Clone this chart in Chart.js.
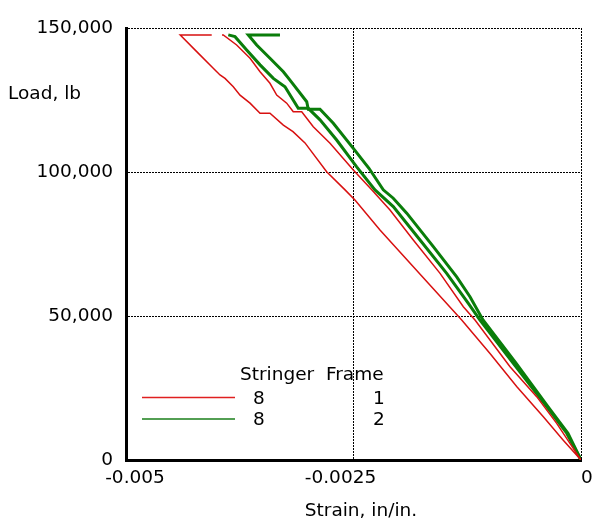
<!DOCTYPE html>
<html>
<head>
<meta charset="utf-8">
<script src="https://cdn.jsdelivr.net/npm/chart.js@4"></script>
<style>
  body { margin: 0; background: #fff; }
  canvas { display: block; }
</style>
</head>
<body>
<canvas id="chart" width="597" height="529"></canvas>
<script>
// strain (in/in.) and load (lb), from zero load up to the top
const red1Strain = [0, -0.000195, -0.000414, -0.000707, -0.001000, -0.001311, -0.001678, -0.001925, -0.002209, -0.002484, -0.002593, -0.002795, -0.003033, -0.003165, -0.003271, -0.003418, -0.003527, -0.003637, -0.003747, -0.003821, -0.003912, -0.003967, -0.004041, -0.004223, -0.004404, -0.004058];
const red1Load = [0, 6900, 15000, 25500, 37000, 48600, 61400, 70000, 79900, 90300, 93800, 100100, 110100, 114000, 116300, 120400, 120400, 123900, 126700, 129600, 132500, 133700, 136000, 141800, 147600, 147600];

const red2Strain = [0, -0.000267, -0.000487, -0.000780, -0.001165, -0.001293, -0.001549, -0.001843, -0.002099, -0.002300, -0.002502, -0.002758, -0.002942, -0.003069, -0.003162, -0.003234, -0.003344, -0.003418, -0.003527, -0.003637, -0.003784, -0.003931, -0.003945];
const red2Load = [0, 12700, 22000, 32400, 48600, 53200, 64800, 76400, 86800, 93800, 100700, 110000, 115700, 120900, 120900, 123900, 126700, 130800, 134800, 139500, 144100, 147600, 147600];

const green1Strain = [0, -0.000157, -0.000377, -0.000744, -0.001110, -0.001238, -0.001476, -0.001769, -0.002063, -0.002264, -0.002465, -0.002685, -0.002868, -0.002997, -0.003107, -0.003253, -0.003381, -0.003527, -0.003674, -0.003802, -0.003876];
const green1Load = [0, 9300, 18500, 33600, 48600, 54400, 64800, 76400, 88000, 93800, 101800, 111100, 118100, 122100, 122100, 129600, 132500, 137200, 142400, 147000, 147600];

const green2Strain = [0, -0.000143, -0.000363, -0.000714, -0.001077, -0.001220, -0.001366, -0.001623, -0.001915, -0.002063, -0.002173, -0.002330, -0.002502, -0.002722, -0.002868, -0.002997, -0.003014, -0.003198, -0.003271, -0.003418, -0.003564, -0.003656, -0.003308];
const green2Load = [0, 9300, 18500, 33600, 48600, 56700, 63600, 74100, 85700, 90900, 93800, 101300, 108200, 116900, 121800, 121800, 124400, 131900, 134800, 139500, 144100, 147600, 147600];

const xTickValues = [-0.005, -0.0025, 0];
const xTickLabels = ['-0.005', '-0.0025', '0'];
const yTickValues = [0, 50000, 100000, 150000];
const yTickLabels = ['0', '50,000', '100,000', '150,000'];

const legendHeader = 'Stringer  Frame';
const legendRows = [
  { stringer: '8', frame: '1', color: '#e02020' },
  { stringer: '8', frame: '2', color: '#1a7f1a' }
];

const RED = '#d81010';
const GREEN = '#0a7d0a';
const FONT = '"DejaVu Sans", sans-serif';
// the old plot puts its x labels a bit off-centre
const xLabelShift = [9, -13, 6];

function points(xs, ys) {
  return xs.map((x, i) => ({ x: x, y: ys[i] }));
}

function curve(xs, ys, color, width) {
  return {
    data: points(xs, ys),
    borderColor: color,
    backgroundColor: color,
    borderWidth: width,
    showLine: true,
    pointRadius: 0,
    tension: 0
  };
}

// x tick labels, axis titles and the little key, drawn on top
const extras = {
  id: 'extras',
  afterDraw(chart) {
    const ctx = chart.ctx;
    const xs = chart.scales.x;
    ctx.save();
    ctx.fillStyle = '#000';
    ctx.font = '18.5px ' + FONT;
    ctx.textBaseline = 'alphabetic';

    ctx.textAlign = 'center';
    xTickValues.forEach((v, i) => {
      ctx.fillText(xTickLabels[i], xs.getPixelForValue(v) + xLabelShift[i], 483);
    });

    ctx.textAlign = 'left';
    ctx.fillText('Load, lb', 8, 99);

    ctx.textAlign = 'center';
    ctx.fillText('Strain, in/in.', 361, 516);

    ctx.textAlign = 'left';
    ctx.fillText(legendHeader, 240, 380);

    legendRows.forEach((row, i) => {
      const y = 397.5 + i * 21.5;
      ctx.strokeStyle = row.color;
      ctx.lineWidth = 1.5;
      ctx.beginPath();
      ctx.moveTo(142, y);
      ctx.lineTo(235, y);
      ctx.stroke();
      ctx.textAlign = 'center';
      ctx.fillText(row.stringer, 259, y + 6);
      ctx.fillText(row.frame, 379, y + 6);
    });
    ctx.restore();
  }
};

new Chart(document.getElementById('chart'), {
  type: 'scatter',
  data: {
    datasets: [
      curve(red1Strain, red1Load, RED, 1.5),
      curve(red2Strain, red2Load, RED, 1.5),
      curve(green1Strain, green1Load, GREEN, 3),
      curve(green2Strain, green2Load, GREEN, 3)
    ]
  },
  options: {
    responsive: false,
    animation: false,
    devicePixelRatio: 1,
    layout: { padding: { top: 28, right: 16, left: 0, bottom: 0 } },
    plugins: {
      legend: { display: false },
      tooltip: { enabled: false }
    },
    scales: {
      x: {
        type: 'linear',
        min: -0.005,
        max: 0,
        afterBuildTicks: (s) => { s.ticks = xTickValues.map(v => ({ value: v })); },
        afterFit: (s) => { s.height = 69; },
        ticks: { display: false },
        grid: { color: '#000', lineWidth: 1, drawTicks: false },
        border: { display: true, color: '#000', width: 3, dash: [2, 1] }
      },
      y: {
        type: 'linear',
        min: 0,
        max: 150000,
        afterBuildTicks: (s) => { s.ticks = yTickValues.map(v => ({ value: v })); },
        afterFit: (s) => { s.width = 126; },
        ticks: {
          color: '#000',
          font: { family: FONT, size: 18.5 },
          padding: 13,
          callback: (v) => yTickLabels[yTickValues.indexOf(v)]
        },
        grid: { color: '#000', lineWidth: 1, drawTicks: false },
        border: { display: true, color: '#000', width: 3, dash: [2, 1] }
      }
    }
  },
  plugins: [extras]
});
</script>
</body>
</html>
